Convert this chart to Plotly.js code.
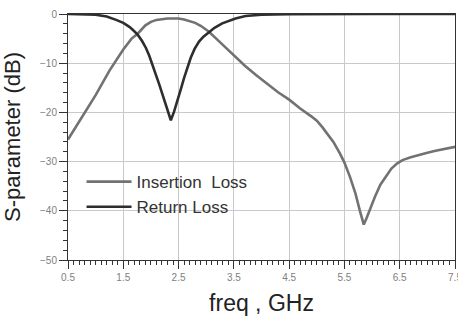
<!DOCTYPE html>
<html>
<head>
<meta charset="utf-8">
<script src="https://cdn.plot.ly/plotly-3.0.1.min.js"></script>
<style>
  html, body { margin: 0; padding: 0; background: #fff; }
  #chart { width: 458px; height: 320px; }
</style>
</head>
<body>
<div id="chart"></div>
<script>
// Insertion Loss (S21)
const ilFreq = [0.5, 0.75, 1.0, 1.25, 1.5, 1.65, 1.76, 1.9, 2.0, 2.1, 2.2, 2.3, 2.4, 2.5, 2.6, 2.7, 2.8, 2.9, 3.05, 3.2, 3.35, 3.5, 3.7, 3.9, 4.1, 4.3, 4.5, 4.7, 4.9, 5.0, 5.1, 5.2, 5.3, 5.42, 5.5, 5.6, 5.7, 5.78, 5.85, 5.9, 5.97, 6.05, 6.15, 6.25, 6.35, 6.45, 6.55, 6.7, 6.85, 7.0, 7.15, 7.3, 7.5];
const ilDb = [-25.5, -21.0, -16.5, -11.5, -7.2, -5.0, -4.0, -2.3, -1.6, -1.2, -1.0, -0.9, -0.9, -0.9, -1.1, -1.4, -1.8, -2.4, -3.6, -5.2, -6.8, -8.4, -10.5, -12.4, -14.2, -15.9, -17.4, -19.2, -20.8, -21.7, -23.0, -24.4, -26.0, -28.4, -30.2, -33.1, -36.5, -40.0, -42.8, -41.5, -39.3, -37.2, -34.7, -33.0, -31.4, -30.4, -29.7, -29.1, -28.6, -28.2, -27.8, -27.4, -27.0];

// Return Loss (S11)
const rlFreq = [0.5, 0.8, 1.0, 1.2, 1.3, 1.37, 1.5, 1.61, 1.68, 1.76, 1.84, 1.91, 1.97, 2.03, 2.09, 2.15, 2.21, 2.27, 2.31, 2.36, 2.42, 2.48, 2.54, 2.6, 2.66, 2.72, 2.79, 2.87, 2.95, 3.05, 3.15, 3.29, 3.4, 3.53, 3.71, 4.0, 4.5, 5.0, 6.0, 7.5];
const rlDb = [0, -0.05, -0.15, -0.5, -0.85, -1.2, -1.8, -2.6, -3.3, -4.2, -5.5, -6.9, -8.5, -10.3, -12.3, -14.3, -16.4, -18.4, -20.0, -21.6, -19.8, -17.7, -15.3, -13.0, -10.9, -8.9, -7.1, -5.6, -4.6, -3.6, -2.8, -1.9, -1.4, -0.9, -0.4, -0.15, -0.05, 0, 0, 0];

const seriesNames = ['Insertion\u00a0 Loss', 'Return Loss'];
const xTickVals = [0.5, 1.5, 2.5, 3.5, 4.5, 5.5, 6.5, 7.5];
const yTickVals = [0, -10, -20, -30, -40, -50];

const FONT = 'Liberation Sans, Arial, sans-serif';

const traces = [
  { x: ilFreq, y: ilDb, name: seriesNames[0], type: 'scatter', mode: 'lines',
    line: { color: '#727272', width: 2.6 } },
  { x: rlFreq, y: rlDb, name: seriesNames[1], type: 'scatter', mode: 'lines',
    line: { color: '#2e2e2e', width: 2.6 } }
];

const axisCommon = {
  showline: true, linecolor: '#333', linewidth: 1, mirror: true,
  showgrid: true, gridcolor: '#c9c9c9', gridwidth: 1,
  zeroline: false,
  ticks: 'outside', ticklen: 8, tickcolor: '#333', tickwidth: 1,
  tickfont: { family: FONT, size: 10, color: '#808080' },
  ticklabeloverflow: 'allow',
  automargin: false
};

const layout = {
  width: 458, height: 320,
  margin: { l: 68, r: 3, t: 14, b: 60 },
  paper_bgcolor: '#ffffff', plot_bgcolor: '#ffffff',
  font: { family: FONT, color: '#222' },
  showlegend: true,
  legend: {
    x: 0.035, y: 0.39, xanchor: 'left', yanchor: 'top',
    bgcolor: 'rgba(0,0,0,0)', borderwidth: 0,
    font: { family: FONT, size: 17, color: '#333' },
    itemwidth: 45
  },
  xaxis: Object.assign({}, axisCommon, {
    range: [0.5, 7.5], tickvals: xTickVals, ticktext: xTickVals.map(v => v.toFixed(1)),
    minor: { dtick: 0.1, tick0: 0.5, ticks: 'outside', ticklen: 4, tickcolor: '#333', showgrid: false },
    title: { text: 'freq , GHz', font: { family: FONT, size: 23, color: '#222' }, standoff: 12 }
  }),
  yaxis: Object.assign({}, axisCommon, {
    range: [-50, 0], tickvals: yTickVals,
    minor: { dtick: 2, tick0: 0, ticks: 'outside', ticklen: 4, tickcolor: '#333', showgrid: false },
    title: { text: 'S-parameter (dB)', font: { family: FONT, size: 22, color: '#222' }, standoff: 14 }
  })
};

Plotly.newPlot('chart', traces, layout, { staticPlot: true, displayModeBar: false });
</script>
</body>
</html>
